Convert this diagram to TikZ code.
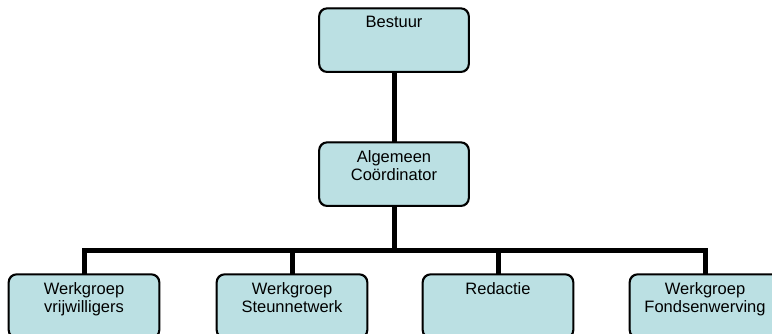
\documentclass[tikz,border=0pt]{standalone}
\usepackage{fontspec}
\setmainfont{Liberation Sans}
\definecolor{boxfill}{RGB}{187,224,227}
\begin{document}
\begin{tikzpicture}[x=1pt,y=-1pt,
  orgbox/.style={draw=black,line width=1.3pt,fill=boxfill,rounded corners=8pt,
    minimum width=149pt,minimum height=63pt,anchor=north,inner sep=0pt},
  orglabel/.style={anchor=north,inner sep=0pt,align=center,
    font=\fontsize{16.5}{18.5}\selectfont},
  link/.style={line width=5pt,line join=miter}]
\useasboundingbox (0,0) rectangle (772,334);
\clip (0,0) rectangle (772,334);
\fill[white] (0,0) rectangle (772,334);
% boxes
\node[orgbox] (best) at (394,8) {};
\node[orgbox] (alg) at (394,142) {};
\node[orgbox,minimum width=150pt] (c1) at (84,274) {};
\node[orgbox,minimum width=150pt] (c2) at (292,274) {};
\node[orgbox,minimum width=150pt] (c3) at (498,274) {};
\node[orgbox,minimum width=150pt] (c4) at (705,274) {};
\coordinate (bar) at (394,251);
% connectors
\draw[link] (best.south) -- (alg.north);
\draw[link] (alg.south) -- (bar);
\draw[link] (bar) -| (c1.north);
\draw[link] (bar) -| (c4.north);
\draw[link] (bar -| c2.north) -- (c2.north);
\draw[link] (bar -| c3.north) -- (c3.north);
% redraw box borders on top
\foreach \n in {best,alg,c1,c2,c3,c4}{
  \draw[line width=1.3pt,rounded corners=8pt] (\n.north west) rectangle (\n.south east);
}
% labels
\node[orglabel] (lbest) at ([yshift=-8pt]best.north) {Bestuur};
\node[orglabel] (lalg) at ([yshift=-8pt]alg.north) {Algemeen\\Coördinator};
\node[orglabel] (lc1) at ([yshift=-8pt]c1.north) {Werkgroep\\vrijwilligers};
\node[orglabel] (lc2) at ([yshift=-8pt]c2.north) {Werkgroep\\Steunnetwerk};
\node[orglabel] (lc3) at ([yshift=-8pt]c3.north) {Redactie};
\node[orglabel] (lc4) at ([yshift=-8pt]c4.north) {Werkgroep\\Fondsenwerving};
\end{tikzpicture}
\end{document}
